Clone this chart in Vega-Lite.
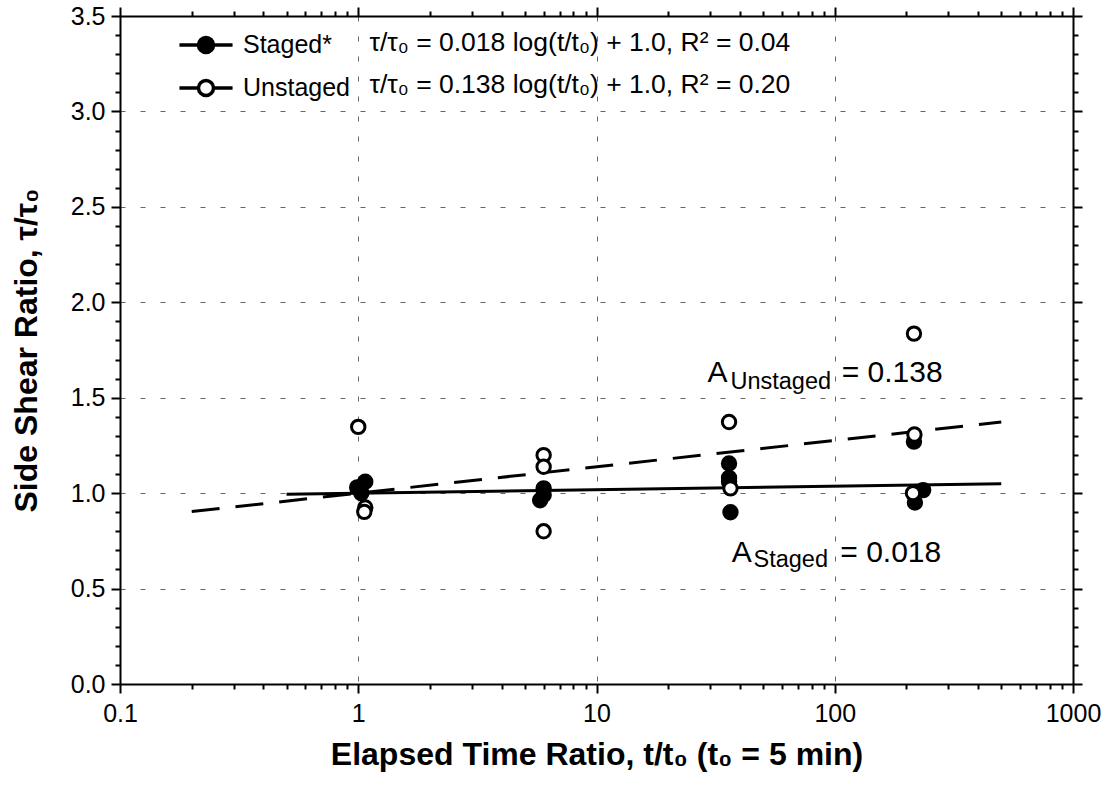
{
  "$schema": "https://vega.github.io/schema/vega-lite/v6.json",
  "width": 953,
  "height": 668,
  "autosize": {"type": "none"},
  "padding": {"left": 120, "top": 16, "right": 38, "bottom": 102},
  "background": "white",
  "config": {
    "view": {"stroke": null},
    "font": "Liberation Sans, Arial, sans-serif",
    "axis": {
      "domainColor": "black", "domainWidth": 2, "tickColor": "black", "tickWidth": 2,
      "labelColor": "black", "titleColor": "black",
      "labelFont": "Liberation Sans, Arial, sans-serif", "titleFont": "Liberation Sans, Arial, sans-serif",
      "labelFontSize": 25, "titleFontSize": 32, "titleFontWeight": "bold",
      "gridColor": "#666666", "gridDash": [5, 15], "gridWidth": 1, "gridOpacity": 1,
      "labelFlush": false, "labelOverlap": false
    }
  },
  "datasets": {
    "points": [
      {"t": 0.99, "ratio": 1.03, "series": "Staged*"},
      {"t": 1.07, "ratio": 1.06, "series": "Staged*"},
      {"t": 1.03, "ratio": 1.0, "series": "Staged*"},
      {"t": 6.0, "ratio": 1.025, "series": "Staged*"},
      {"t": 6.0, "ratio": 0.99, "series": "Staged*"},
      {"t": 5.8, "ratio": 0.963, "series": "Staged*"},
      {"t": 36, "ratio": 1.155, "series": "Staged*"},
      {"t": 36, "ratio": 1.08, "series": "Staged*"},
      {"t": 36, "ratio": 1.06, "series": "Staged*"},
      {"t": 36.5, "ratio": 0.9, "series": "Staged*"},
      {"t": 215, "ratio": 1.27, "series": "Staged*"},
      {"t": 235, "ratio": 1.016, "series": "Staged*"},
      {"t": 217, "ratio": 0.951, "series": "Staged*"},
      {"t": 1.0, "ratio": 1.347, "series": "Unstaged"},
      {"t": 1.07, "ratio": 0.925, "series": "Unstaged"},
      {"t": 1.06, "ratio": 0.902, "series": "Unstaged"},
      {"t": 6.0, "ratio": 1.199, "series": "Unstaged"},
      {"t": 6.0, "ratio": 1.138, "series": "Unstaged"},
      {"t": 6.0, "ratio": 0.8, "series": "Unstaged"},
      {"t": 36, "ratio": 1.373, "series": "Unstaged"},
      {"t": 36.5, "ratio": 1.025, "series": "Unstaged"},
      {"t": 215, "ratio": 1.836, "series": "Unstaged"},
      {"t": 216, "ratio": 1.307, "series": "Unstaged"},
      {"t": 213, "ratio": 1.0, "series": "Unstaged"}
    ],
    "fits": [
      {"t": 0.5, "ratio": 0.9946, "series": "Staged*"},
      {"t": 500, "ratio": 1.0486, "series": "Staged*"},
      {"t": 0.2, "ratio": 0.9035, "series": "Unstaged"},
      {"t": 500, "ratio": 1.3725, "series": "Unstaged"}
    ],
    "eqs": [
      {"t": 1.115, "ratio": 3.356, "label": "τ/τ₀  = 0.018 log(t/t₀) + 1.0, R² = 0.04"},
      {"t": 1.115, "ratio": 3.136, "label": "τ/τ₀  = 0.138 log(t/t₀) + 1.0, R² = 0.20"}
    ],
    "notes": [
      {"t": 29.2, "ratio": 1.581, "label": "A"},
      {"t": 107, "ratio": 1.581, "label": "= 0.138"},
      {"t": 37.0, "ratio": 0.64, "label": "A"},
      {"t": 105.5, "ratio": 0.64, "label": "= 0.018"}
    ],
    "subs": [
      {"t": 36.5, "ratio": 1.545, "label": "Unstaged"},
      {"t": 45.6, "ratio": 0.614, "label": "Staged"}
    ]
  },
  "layer": [
    {
      "data": {"name": "fits"},
      "transform": [{"filter": "datum.series === 'Unstaged'"}],
      "mark": {"type": "line", "color": "black", "strokeWidth": 3, "strokeDash": [28, 16]},
      "encoding": {
        "x": {"field": "t", "type": "quantitative", "scale": {"type": "log", "domain": [0.1, 1000]},
          "axis": {"orient": "bottom", "values": [0.1, 1, 10, 100, 1000], "format": "~g", "tickSize": 9, "labelPadding": 8,
            "grid": true, "title": "Elapsed Time Ratio, t/t₀  (t₀ = 5 min)", "titlePadding": 13}},
        "y": {"field": "ratio", "type": "quantitative", "scale": {"domain": [0, 3.5], "nice": false, "zero": false},
          "axis": {"orient": "left", "values": [0, 0.5, 1, 1.5, 2, 2.5, 3, 3.5], "format": ".1f", "tickSize": 9, "labelPadding": 6,
            "grid": true, "title": "Side Shear Ratio, τ/τ₀", "titlePadding": 27}}
      }
    },
    {
      "data": {"name": "fits"},
      "transform": [{"filter": "datum.series === 'Staged*'"}],
      "mark": {"type": "line", "color": "black", "strokeWidth": 3},
      "encoding": {
        "x": {"field": "t", "type": "quantitative", "scale": {"type": "log", "domain": [0.1, 1000]},
          "axis": {"orient": "bottom", "values": [0.2, 0.3, 0.4, 0.5, 0.6, 0.7, 0.8, 0.9, 2, 3, 4, 5, 6, 7, 8, 9, 20, 30, 40, 50, 60, 70, 80, 90, 200, 300, 400, 500, 600, 700, 800, 900],
            "labels": false, "domain": false, "grid": false, "tickSize": 5, "title": null}},
        "y": {"field": "ratio", "type": "quantitative", "scale": {"domain": [0, 3.5], "nice": false, "zero": false},
          "axis": {"orient": "left", "values": [0.1, 0.2, 0.3, 0.4, 0.6, 0.7, 0.8, 0.9, 1.1, 1.2, 1.3, 1.4, 1.6, 1.7, 1.8, 1.9, 2.1, 2.2, 2.3, 2.4, 2.6, 2.7, 2.8, 2.9, 3.1, 3.2, 3.3, 3.4],
            "labels": false, "domain": false, "grid": false, "tickSize": 5, "title": null}}
      }
    },
    {
      "data": {"name": "points"},
      "mark": {"type": "point", "shape": "circle", "filled": true, "stroke": "black", "strokeWidth": 3, "size": 180, "opacity": 1},
      "encoding": {
        "x": {"field": "t", "type": "quantitative", "scale": {"type": "log", "domain": [0.1, 1000]},
          "axis": {"orient": "top", "values": [0.1, 1, 10, 100, 1000], "labels": false, "domain": true, "grid": false, "tickSize": 9, "title": null}},
        "y": {"field": "ratio", "type": "quantitative", "scale": {"domain": [0, 3.5], "nice": false, "zero": false},
          "axis": {"orient": "right", "values": [0, 0.5, 1, 1.5, 2, 2.5, 3, 3.5], "labels": false, "domain": true, "grid": false, "tickSize": 9, "title": null}},
        "fill": {"field": "series", "type": "nominal",
          "scale": {"domain": ["Staged*", "Unstaged"], "range": ["black", "white"]},
          "legend": {
            "orient": "none", "legendX": 68, "legendY": 11, "direction": "vertical", "title": null, "padding": 0,
            "symbolType": "M-1.66,0H-0.47M0.47,0H1.66M0.47,0A0.47,0.47,0,1,1,-0.47,0A0.47,0.47,0,1,1,0.47,0",
            "symbolSize": 1024, "symbolStrokeColor": "black", "symbolStrokeWidth": 3.5, "symbolOpacity": 1,
            "labelFontSize": 25, "labelColor": "black", "labelOffset": 19, "rowPadding": 10,
            "labelFont": "Liberation Sans, Arial, sans-serif",
            "encode": {"symbols": {"update": {"stroke": {"value": "black"}, "strokeWidth": {"value": 3.5}, "opacity": {"value": 1}}}}
          }}
      }
    },
    {
      "data": {"name": "eqs"},
      "mark": {"type": "text", "align": "left", "baseline": "middle", "fontSize": 26.5, "color": "black", "font": "Liberation Sans, Arial, sans-serif"},
      "encoding": {
        "x": {"field": "t", "type": "quantitative", "scale": {"type": "log", "domain": [0.1, 1000]},
          "axis": {"orient": "top", "values": [0.2, 0.3, 0.4, 0.5, 0.6, 0.7, 0.8, 0.9, 2, 3, 4, 5, 6, 7, 8, 9, 20, 30, 40, 50, 60, 70, 80, 90, 200, 300, 400, 500, 600, 700, 800, 900],
            "labels": false, "domain": false, "grid": false, "tickSize": 5, "title": null}},
        "y": {"field": "ratio", "type": "quantitative", "scale": {"domain": [0, 3.5], "nice": false, "zero": false},
          "axis": {"orient": "right", "values": [0.1, 0.2, 0.3, 0.4, 0.6, 0.7, 0.8, 0.9, 1.1, 1.2, 1.3, 1.4, 1.6, 1.7, 1.8, 1.9, 2.1, 2.2, 2.3, 2.4, 2.6, 2.7, 2.8, 2.9, 3.1, 3.2, 3.3, 3.4],
            "labels": false, "domain": false, "grid": false, "tickSize": 5, "title": null}},
        "text": {"field": "label"}
      }
    },
    {
      "data": {"name": "notes"},
      "mark": {"type": "text", "align": "left", "baseline": "alphabetic", "fontSize": 30, "color": "black", "font": "Liberation Sans, Arial, sans-serif"},
      "encoding": {
        "x": {"field": "t", "type": "quantitative", "scale": {"type": "log", "domain": [0.1, 1000]}, "axis": null},
        "y": {"field": "ratio", "type": "quantitative", "scale": {"domain": [0, 3.5], "nice": false, "zero": false}, "axis": null},
        "text": {"field": "label"}
      }
    },
    {
      "data": {"name": "subs"},
      "mark": {"type": "text", "align": "left", "baseline": "alphabetic", "fontSize": 23.5, "color": "black", "font": "Liberation Sans, Arial, sans-serif"},
      "encoding": {
        "x": {"field": "t", "type": "quantitative", "scale": {"type": "log", "domain": [0.1, 1000]}, "axis": null},
        "y": {"field": "ratio", "type": "quantitative", "scale": {"domain": [0, 3.5], "nice": false, "zero": false}, "axis": null},
        "text": {"field": "label"}
      }
    }
  ],
  "resolve": {"axis": {"x": "independent", "y": "independent"}}
}
